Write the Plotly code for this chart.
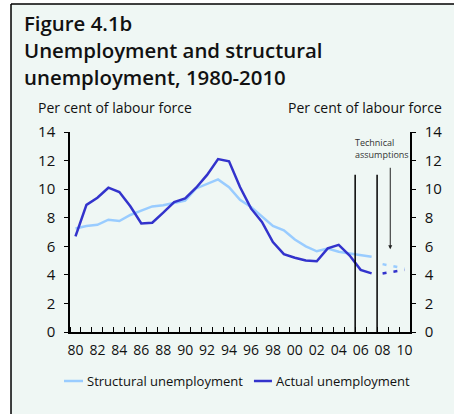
import plotly.graph_objects as go

# data
years_hist = list(range(1980, 2008))
actual = [6.7, 8.9, 9.4, 10.1, 9.8, 8.8, 7.6, 7.65, 8.35, 9.1,
          9.35, 10.1, 11.0, 12.1, 11.95, 10.15, 8.65, 7.7, 6.3, 5.45,
          5.2, 5.0, 4.95, 5.85, 6.1, 5.35, 4.35, 4.1]
structural = [7.25, 7.42, 7.5, 7.86, 7.77, 8.19, 8.49, 8.79, 8.88, 9.02,
              9.2, 10.05, 10.37, 10.68, 10.14, 9.26, 8.75, 8.05, 7.42, 7.12,
              6.47, 6.0, 5.65, 5.84, 5.62, 5.49, 5.37, 5.26]
years_fc = [2008, 2009, 2010]
actual_fc = [4.1, 4.2, 4.35]
structural_fc = [4.75, 4.58, 4.45]

x_ticks = list(range(1980, 2011, 2))
x_labels = [f"{y % 100:02d}" for y in x_ticks]
y_ticks = list(range(0, 15, 2))

light = '#99ccff'
dark = '#3333cc'
bg = '#eff7f4'
font = 'Open Sans'

fig = go.Figure()

fig.add_trace(go.Scatter(x=years_hist, y=structural, mode='lines',
                         line=dict(color=light, width=2.5),
                         name='Structural unemployment'))
fig.add_trace(go.Scatter(x=years_hist, y=actual, mode='lines',
                         line=dict(color=dark, width=2.5),
                         name='Actual unemployment'))
fig.add_trace(go.Scatter(x=years_fc, y=structural_fc, mode='lines',
                         line=dict(color=light, width=2.5, dash='4px,7px')))
fig.add_trace(go.Scatter(x=years_fc, y=actual_fc, mode='lines',
                         line=dict(color=dark, width=2.5, dash='4px,7px')))
# invisible trace to activate right axis
fig.add_trace(go.Scatter(x=[1980], y=[0], yaxis='y2', mode='markers',
                         marker=dict(opacity=0), hoverinfo='skip'))

# period markers
for xv in [2005.5, 2007.5]:
    fig.add_shape(type='line', xref='x', yref='y', x0=xv, x1=xv, y0=0, y1=11,
                  line=dict(color='black', width=1.5))

# tinted panel with a frame on top and left, white outside it
fig.add_shape(type='rect', xref='paper', yref='paper', x0=-0.1735, x1=1.2,
              y0=-0.5, y1=1.64, fillcolor=bg, line=dict(width=0), layer='below')
fig.add_shape(type='line', xref='paper', yref='paper', x0=-0.1735, x1=1.2,
              y0=1.64, y1=1.64, line=dict(color='black', width=1.5))
fig.add_shape(type='line', xref='paper', yref='paper', x0=-0.1735, x1=-0.1735,
              y0=1.64, y1=-0.5, line=dict(color='black', width=1.5))

fig.add_annotation(x=2008.7, y=5.8, ax=2008.7, ay=11.6, axref='x', ayref='y',
                   xref='x', yref='y', text='', showarrow=True,
                   arrowhead=2, arrowsize=0.8, arrowwidth=1, arrowcolor='#222')
fig.add_annotation(x=2005.3, y=12.82, xref='x', yref='y', text='Technical<br>assumptions',
                   showarrow=False, xanchor='left', yanchor='middle', align='left',
                   font=dict(family=font, size=9, color='#333'))

title_font = dict(family=font, size=20.4, color='#111', weight=600)
fig.add_annotation(x=-0.14, y=1.545, xref='paper', yref='paper', text='Figure 4.1b',
                   showarrow=False, xanchor='left', yanchor='middle', align='left',
                   font=title_font)
fig.add_annotation(x=-0.14, y=1.341, xref='paper', yref='paper',
                   text='Unemployment and structural<br>unemployment, 1980-2010',
                   showarrow=False, xanchor='left', yanchor='middle', align='left',
                   font=title_font)

fig.add_annotation(x=-0.1, y=1.12, xref='paper', yref='paper',
                   text='Per cent of labour force', showarrow=False,
                   xanchor='left', yanchor='middle', align='left',
                   font=dict(family=font, size=14, color='#111'))
fig.add_annotation(x=1.1, y=1.12, xref='paper', yref='paper',
                   text='Per cent of labour force', showarrow=False,
                   xanchor='right', yanchor='middle', align='right',
                   font=dict(family=font, size=14, color='#111'))

# legend drawn by hand so the line keys stay short
legend_items = [('Structural unemployment', light, -0.0176, 0.0382),
                ('Actual unemployment', dark, 0.541, 0.594)]
for txt, col, x0, x1 in legend_items:
    fig.add_shape(type='line', xref='paper', yref='paper', x0=x0, x1=x1,
                  y0=-0.245, y1=-0.245, line=dict(color=col, width=2.5))
    fig.add_annotation(x=x1 + 0.006, y=-0.245, xref='paper', yref='paper',
                       text=txt, showarrow=False, xanchor='left', yanchor='middle',
                       align='left', font=dict(family=font, size=13, color='#111'))

x_font = dict(family=font, size=14, color='#111')
y_font = dict(family=font, size=15, color='#111')

fig.update_layout(
    width=454, height=414,
    paper_bgcolor='white', plot_bgcolor=bg,
    margin=dict(l=70, r=44, t=132, b=82, autoexpand=False),
    showlegend=False,
    xaxis=dict(range=[1979.5, 2010.5], tickvals=x_ticks, ticktext=x_labels,
               ticks='', showgrid=False, zeroline=False, showline=True,
               linecolor='black', linewidth=1.5, tickfont=x_font,
               ticklabelstandoff=4,
               minor=dict(tickmode='linear', tick0=1979.5, dtick=1,
                          ticks='inside', ticklen=5, tickcolor='black',
                          tickwidth=1, showgrid=False)),
    yaxis=dict(range=[0, 14], tickvals=y_ticks, ticks='outside', ticklen=4,
               tickcolor='black', showgrid=False, zeroline=False, showline=True,
               linecolor='black', linewidth=1.5, tickfont=y_font,
               ticklabelstandoff=6),
    yaxis2=dict(range=[0, 14], tickvals=y_ticks, ticks='outside', ticklen=4,
                tickcolor='black', showgrid=False, zeroline=False, showline=True,
                linecolor='black', linewidth=1.5, tickfont=y_font,
                overlaying='y', side='right', ticklabelstandoff=6),
)

# page has an 8px body margin by default, drop it so the figure fills the window
fig.write_html("out.html", config={'displayModeBar': False},
               post_script="document.body.style.margin='0';")
